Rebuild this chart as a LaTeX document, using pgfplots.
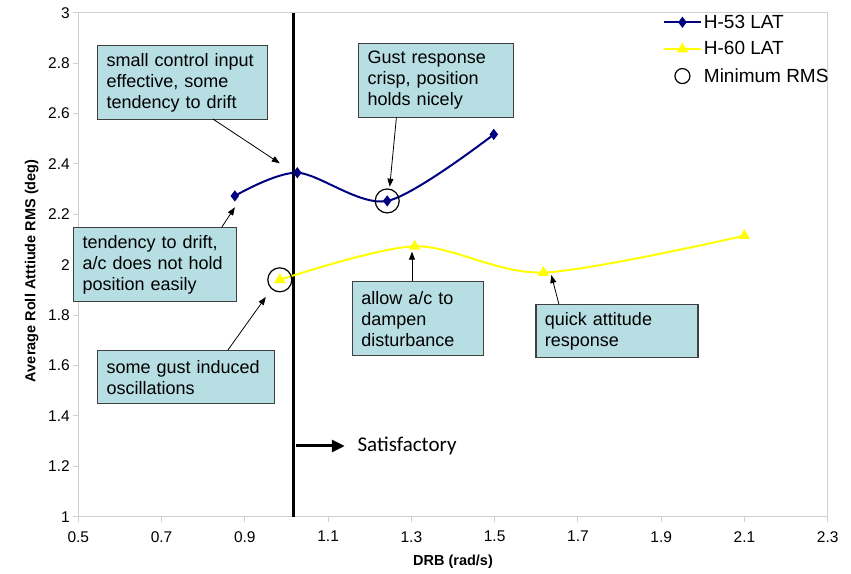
\documentclass[border=0pt]{standalone}
\usepackage{fontspec}
\setmainfont{Liberation Sans}
\newfontfamily\carlito{Carlito}
\usepackage{pgfplots}
\pgfplotsset{compat=1.18}
\usetikzlibrary{arrows.meta}
\definecolor{boxfill}{HTML}{B7DEE3}
\definecolor{boxedge}{HTML}{404040}
\definecolor{h53}{HTML}{000080}
\definecolor{h60}{HTML}{FFFF00}
\definecolor{axgray}{HTML}{D0D0D0}

\begin{document}
\begin{tikzpicture}[
  box/.style={draw=boxedge, line width=1.3pt, fill=boxfill, anchor=north west,
    inner xsep=9pt, inner ysep=4pt, align=left, font=\fontsize{18}{21}\selectfont},
  note/.style={-{Triangle[length=8pt,width=6pt]}, line width=0.8pt, black}
]
\begin{axis}[
  scale only axis,
  width=749.4pt, height=504pt,
  xmin=0.5, xmax=2.3, ymin=1, ymax=3,
  xtick={0.5,0.7,0.9,1.1,1.3,1.5,1.7,1.9,2.1,2.3},
  ytick={1,1.2,1.4,1.6,1.8,2,2.2,2.4,2.6,2.8,3},
  xtick pos=bottom, ytick pos=left,
  tick align=outside, major tick length=5pt,
  axis line style={axgray, line width=1pt},
  tick style={axgray, line width=1pt},
  /pgf/number format/assume math mode=true,
  ticklabel style={font=\fontsize{15.5}{18}\selectfont},
  xticklabel style={yshift=-6pt},
  xlabel={DRB (rad/s)},
  ylabel={Average Roll Atttiude RMS (deg)},
  xlabel style={at={(axis description cs:0.5,-0.0893)}, anchor=center, font=\bfseries\fontsize{14.5}{17}\selectfont},
  ylabel style={at={(axis description cs:-0.0622,0.488)}, anchor=center, font=\bfseries\fontsize{14.5}{17}\selectfont},
  clip=false,
  legend style={at={(1.004,1.0)}, anchor=north east, draw=none, fill=none,
    font=\fontsize{19}{22}\selectfont, row sep=8pt, inner sep=0pt, cells={anchor=west}},
  legend image code/.code={\draw[mark repeat=2,mark phase=2] plot coordinates {(0pt,0pt) (18.5pt,0pt) (37pt,0pt)};},
]
\addplot[black, line width=3pt, forget plot] coordinates {(1.016,1) (1.016,3)};

\addplot[h53, line width=2pt, smooth, mark=diamond*, mark size=4pt, mark options={solid, fill=h53}]
  coordinates {(0.876,2.273) (1.026,2.365) (1.242,2.253) (1.498,2.517)};
\addlegendentry{H-53 LAT}

\addplot[h60, line width=2pt, smooth, mark=triangle*, mark size=4.5pt, mark options={solid, fill=h60}]
  coordinates {(0.984,1.940) (1.308,2.073) (1.617,1.969) (2.100,2.115)};
\addlegendentry{H-60 LAT}

\addplot[black, only marks, mark=o, mark size=12pt, line width=1.2pt,
  legend image code/.code={\draw[mark size=7.5pt] plot coordinates {(18.5pt,0pt)};}]
  coordinates {(1.242,2.253) (0.984,1.940)};
\addlegendentry{Minimum RMS}

% annotation boxes
\node[box, text width=152pt, minimum height=74pt] at (axis cs:0.5449,2.8718)
  {small control input\\effective, some\\tendency to drift};
\node[box, text width=137pt, minimum height=74pt] at (axis cs:1.1720,2.8810)
  {Gust response\\crisp, position\\holds nicely};
\node[box, text width=145pt, minimum height=74pt] at (axis cs:0.4873,2.1496)
  {tendency to drift,\\a/c does not hold\\position easily};
\node[box, text width=159pt, minimum height=53pt] at (axis cs:0.5449,1.6611)
  {some gust induced\\oscillations};
\node[box, text width=113pt, minimum height=74pt] at (axis cs:1.1568,1.9353)
  {allow a/c to\\dampen\\disturbance};
\node[box, text width=144pt, minimum height=53pt] at (axis cs:1.5977,1.8440)
  {quick attitude\\response};

% pointers
\draw[note] (axis cs:0.8233,2.5782) -- (axis cs:0.9840,2.4024);
\draw[note] (axis cs:1.2641,2.5849) -- (axis cs:1.2480,2.3095);
\draw[note] (axis cs:0.8449,2.1496) -- (axis cs:0.8761,2.2278);
\draw[note] (axis cs:0.8593,1.6611) -- (axis cs:0.9504,1.8718);
\draw[note] (axis cs:1.3015,1.9353) -- (axis cs:1.3015,2.0516);
\draw[note] (axis cs:1.6543,1.8440) -- (axis cs:1.6361,1.9591);

\draw[-{Triangle[length=13pt,width=12pt]}, line width=3pt, black]
  (axis cs:1.0225,1.2806) -- (axis cs:1.1400,1.2806);
\node[anchor=west, inner sep=0pt, font=\carlito\fontsize{21}{24}\selectfont]
  at (axis cs:1.1703,1.2806) {Satisfactory};
\end{axis}
\pgfresetboundingbox
\path ([shift={(-78.3pt,-56.3pt)}]current axis.south west) rectangle ([shift={(23.3pt,12.7pt)}]current axis.north east);
\end{tikzpicture}
\end{document}
